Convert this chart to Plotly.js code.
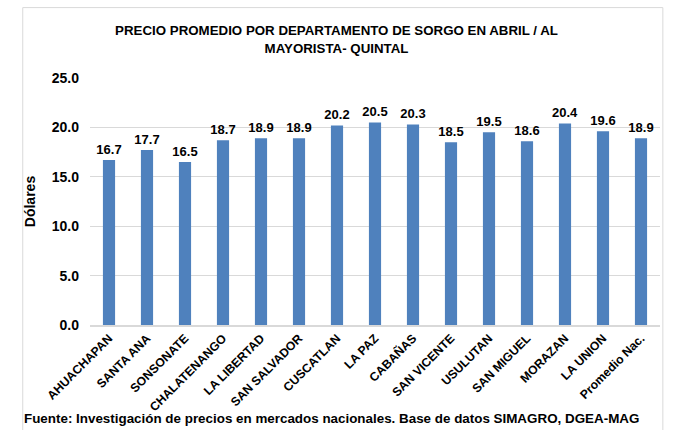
<!DOCTYPE html>
<html><head><meta charset="utf-8">
<script src="https://cdn.plot.ly/plotly-3.0.1.min.js"></script>
<style>body{margin:0;background:#fff}#c{width:673px;height:430px}</style>
</head><body><div id="c"></div>
<script>
const departamentos = ["AHUACHAPAN","SANTA ANA","SONSONATE","CHALATENANGO","LA LIBERTAD","SAN SALVADOR","CUSCATLAN","LA PAZ","CABAÑAS","SAN VICENTE","USULUTAN","SAN MIGUEL","MORAZAN","LA UNION","Promedio Nac."];
const precios = [16.7,17.7,16.5,18.7,18.9,18.9,20.2,20.5,20.3,18.5,19.5,18.6,20.4,19.6,18.9];
const yTicks = [0,5,10,15,20,25];
const FONT = '"Liberation Sans Narrow", "Liberation Sans", Arial, sans-serif';

const trace = {
  type:'bar', x: departamentos, y: precios,
  marker:{color:'#4f81bd'},
  text: precios.map(v=>v.toFixed(1)), textposition:'outside', constraintext:'none',
  textfont:{family:FONT, size:13, color:'#000', weight:'bold'},
  cliponaxis:false, hoverinfo:'none'
};
const layout = {
  width:673, height:430,
  margin:{l:90, r:13, t:78, b:105},
  paper_bgcolor:'#fff', plot_bgcolor:'#fff',
  font:{family:FONT, color:'#000'},
  bargap:0.68,
  title:{text:'<b>PRECIO PROMEDIO POR DEPARTAMENTO DE SORGO EN ABRIL / AL<br>MAYORISTA- QUINTAL</b>',
    font:{family:FONT, size:13.3, color:'#000'}, x:0.5, xanchor:'center', y:0.918, yanchor:'top'},
  xaxis:{tickangle:-45, tickfont:{family:FONT, size:12.2, color:'#000', weight:'bold'},
    showgrid:false, showline:true, linecolor:'#d9d9d9', linewidth:1.5, ticks:''},
  yaxis:{range:[0,25], tickvals:yTicks, ticktext:yTicks.map(v=>v.toFixed(1)),
    tickfont:{family:FONT, size:14, color:'#000', weight:'bold'},
    gridcolor:'#d9d9d9', gridwidth:1, zeroline:false, ticks:'', ticklabelstandoff:10,
    title:{text:'<b>Dólares</b>', font:{family:FONT, size:14, color:'#000'}, standoff:12}},
  shapes:[{type:'rect', xref:'paper', yref:'paper', x0:-0.118, x1:1.005, y0:-0.43, y1:1.285,
    line:{color:'#d9d9d9', width:1}}],
  annotations:[{text:'<b>Fuente: Investigación de precios en mercados nacionales. Base de datos SIMAGRO, DGEA-MAG</b>',
    xref:'paper', yref:'paper', x:-0.12, y:-0.342, xanchor:'left', yanchor:'top', showarrow:false,
    font:{family:FONT, size:13.4, color:'#000'}}]
};
Plotly.newPlot('c',[trace],layout,{displayModeBar:false, staticPlot:true});
</script></body></html>
